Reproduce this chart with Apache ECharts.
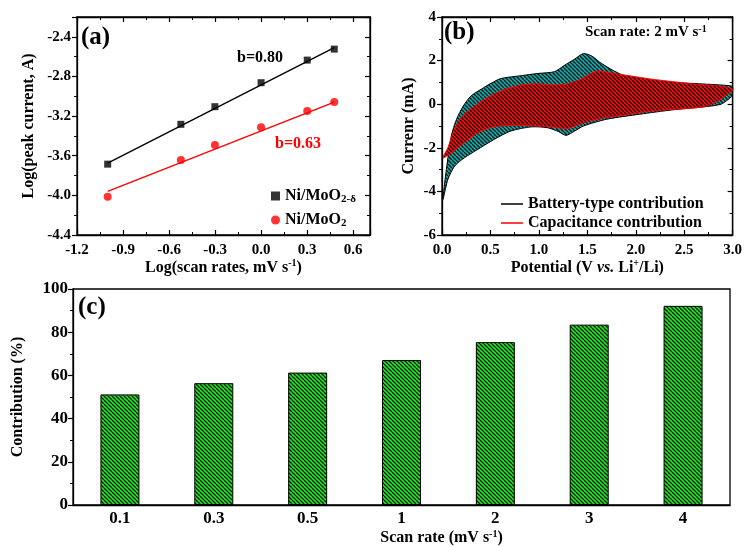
<!DOCTYPE html>
<html><head><meta charset="utf-8">
<script src="https://cdn.jsdelivr.net/npm/echarts@6/dist/echarts.min.js"></script>
<style>html,body{margin:0;padding:0;background:#fff}#c{width:745px;height:547px}</style>
</head><body><div id="c"></div>
<script>
// ---------- Panel (a) data ----------
const logRate = [-1, -0.523, -0.301, 0, 0.301, 0.477];
const peakDelta = [-3.685, -3.283, -3.105, -2.863, -2.635, -2.524];
const peakMoO2 = [-4.014, -3.642, -3.491, -3.313, -3.148, -3.058];
const fitX = [-1, 0.477];
const fitDelta = [-3.675, -2.51];
const fitMoO2 = [-3.96, -3.06];

// ---------- Panel (b) data (CV loops) ----------
const batUpV = [0.01, 0.045, 0.096, 0.15, 0.22, 0.30, 0.405, 0.51, 0.61, 0.82, 0.99, 1.16, 1.26, 1.37, 1.46, 1.55, 1.63, 1.77, 1.97, 2.38, 2.73, 2.97, 3.0];
const batUpI = [-4.37, -3.0, -1.46, -0.69, -0.08, 0.38, 0.69, 0.97, 1.18, 1.31, 1.41, 1.49, 1.77, 2.07, 2.32, 2.2, 1.92, 1.54, 1.15, 1.0, 0.92, 0.85, 0.8];
const batLoV = [2.99, 2.95, 2.88, 2.73, 2.38, 2.04, 1.70, 1.46, 1.37, 1.28, 1.20, 1.09, 0.92, 0.71, 0.54, 0.37, 0.23, 0.13, 0.06];
const batLoI = [0.38, 0.2, 0.0, -0.11, -0.26, -0.46, -0.69, -1.0, -1.23, -1.43, -1.25, -1.08, -1.04, -1.23, -1.61, -2.07, -2.46, -2.84, -3.46];
const capUpV = [0.01, 0.06, 0.12, 0.18, 0.30, 0.47, 0.65, 0.85, 0.99, 1.16, 1.28, 1.40, 1.52, 1.60, 1.82, 2.16, 2.61, 3.0];
const capUpI = [-2.46, -2.0, -1.25, -0.72, -0.2, 0.3, 0.68, 0.9, 0.93, 0.88, 0.92, 1.08, 1.35, 1.52, 1.38, 1.15, 0.92, 0.7];
const capLoV = [2.85, 2.71, 2.51, 2.16, 1.82, 1.70, 1.46, 1.29, 1.16, 1.0, 0.75, 0.54, 0.37, 0.23, 0.10];
const capLoI = [0.15, -0.11, -0.2, -0.31, -0.54, -0.6, -0.85, -1.12, -1.05, -1.0, -0.97, -1.03, -1.31, -1.77, -2.23];

// ---------- Panel (c) data ----------
const scanRates = ['0.1', '0.3', '0.5', '1', '2', '3', '4'];
const contribution = [51.2, 56.4, 61.3, 67.1, 75.4, 83.5, 92.2];

const FF = '"Liberation Serif", "Times New Roman", serif';

function hatch(bg, fg, size, lw) {
  const c = document.createElement('canvas');
  c.width = c.height = size;
  const g = c.getContext('2d');
  g.fillStyle = bg; g.fillRect(0, 0, size, size);
  g.strokeStyle = fg; g.lineWidth = lw;
  g.beginPath();
  for (let k = -1; k <= 1; k++) { g.moveTo(0, k * size); g.lineTo(size, size + k * size); }
  g.stroke();
  return { image: c, repeat: 'repeat' };
}
const tealPat = hatch('#1fa8a8', '#062020', 4, 1.4);
const redPat = hatch('#ff1010', '#1a0000', 4, 1.4);
const greenPat = hatch('#22e622', '#041a04', 4, 1.25);

const lineS = { lineStyle: { color: '#000', width: 1.3 } };
const lbl = { color: '#000', fontFamily: FF, fontWeight: 'bold', fontSize: 15 };
const lblC = { color: '#000', fontFamily: FF, fontWeight: 'bold', fontSize: 17 };
const rich = {
  a: { fontFamily: FF, fontWeight: 'bold', fontSize: 16, color: '#000', lineHeight: 18 },
  i: { fontFamily: FF, fontWeight: 'bold', fontStyle: 'italic', fontSize: 16, color: '#000', lineHeight: 18 },
  sup: { fontFamily: FF, fontWeight: 'bold', fontSize: 10, color: '#000', verticalAlign: 'top', lineHeight: 10 }
};

function valAxis(o) {
  return Object.assign({
    type: 'value', axisLine: Object.assign({ show: true, onZero: false }, lineS),
    axisTick: { show: true, inside: false, length: 5, lineStyle: { color: '#000', width: 1.2 } },
    minorTick: { show: true, splitNumber: 2, length: 3, lineStyle: { color: '#000', width: 1 } },
    splitLine: { show: false }, minorSplitLine: { show: false },
    axisLabel: Object.assign({ showMaxLabel: false, margin: 6 }, lbl),
    nameLocation: 'middle', nameTextStyle: { rich: rich }
  }, o);
}
function mirror(o) {
  return valAxis(Object.assign({
    axisTick: { show: true, inside: true, length: 5, lineStyle: { color: '#000', width: 1.2 } },
    axisLabel: { show: false }
  }, o));
}

function loopSeries(name, upV, upI, loV, loI, pattern, stroke) {
  return {
    type: 'custom', name: name, xAxisIndex: 2, yAxisIndex: 2, silent: true,
    itemStyle: { color: stroke }, data: [[0, 0]],
    renderItem: function (params, api) {
      const pts = [];
      for (let i = 0; i < upV.length; i++) pts.push(api.coord([upV[i], upI[i]]));
      for (let i = 0; i < loV.length; i++) pts.push(api.coord([loV[i], loI[i]]));
      return { type: 'polygon', shape: { points: pts, smooth: 0.25 }, style: { fill: pattern, stroke: stroke, lineWidth: 1 } };
    }
  };
}

const chart = echarts.init(document.getElementById('c'), null, { renderer: 'canvas' });
chart.setOption({
  animation: false,
  backgroundColor: '#fff',
  grid: [
    { left: 77, top: 17, width: 293, height: 218, show: true, borderColor: '#000', borderWidth: 1.3 },
    { left: 442, top: 17, width: 291, height: 218, show: true, borderColor: '#000', borderWidth: 1.3 },
    { left: 73, top: 289, width: 657, height: 217, show: true, borderColor: '#000', borderWidth: 1.3 }
  ],
  xAxis: [
    valAxis({ gridIndex: 0, min: -1.2, max: 0.71, interval: 0.3,
      axisTick: { show: true, inside: true, length: 5, lineStyle: { color: '#000', width: 1.2 } },
      axisLabel: Object.assign({ showMaxLabel: false, margin: 8, formatter: v => v.toFixed(1) }, lbl),
      name: '{a|Log(scan rates, mV s}{sup|-1}{a|)}', nameGap: 23 }),
    mirror({ gridIndex: 0, position: 'top', min: -1.2, max: 0.71, interval: 0.3 }),
    valAxis({ gridIndex: 1, min: 0, max: 3, interval: 0.5,
      axisTick: { show: true, inside: true, length: 5, lineStyle: { color: '#000', width: 1.2 } },
      axisLabel: Object.assign({ showMaxLabel: true, margin: 8, formatter: v => v.toFixed(1) }, lbl),
      name: '{a|Potential (V }{i|vs.}{a| Li}{sup|+}{a|/Li)}', nameGap: 23 }),
    mirror({ gridIndex: 1, position: 'top', min: 0, max: 3, interval: 0.5 }),
    { type: 'category', gridIndex: 2, data: scanRates,
      axisLine: Object.assign({ show: true }, lineS), axisTick: { show: false },
      axisLabel: Object.assign({ margin: 5 }, lblC),
      name: '{a|Scan rate (mV s}{sup|-1}{a|)}', nameLocation: 'middle', nameGap: 24,
      nameTextStyle: { rich: rich, padding: [0, 0, 0, 80] } }
  ],
  yAxis: [
    valAxis({ gridIndex: 0, min: -4.4, max: -2.2, interval: 0.4,
      axisLabel: Object.assign({ showMaxLabel: false, margin: 6, formatter: v => v.toFixed(1) }, lbl),
      name: '{a|Log(peak current, A)}', nameGap: 39 }),
    mirror({ gridIndex: 0, position: 'right', min: -4.4, max: -2.2, interval: 0.4 }),
    valAxis({ gridIndex: 1, min: -6, max: 4, interval: 2,
      axisLabel: Object.assign({ showMaxLabel: true, margin: 6 }, lbl),
      name: '{a|Currenr (mA)}', nameGap: 24 }),
    mirror({ gridIndex: 1, position: 'right', min: -6, max: 4, interval: 2 }),
    valAxis({ gridIndex: 2, min: 0, max: 100, interval: 20,
      axisLabel: Object.assign({ showMaxLabel: true, margin: 5 }, lblC),
      name: '{a|Contribution (%)}', nameGap: 46 })
  ],
  legend: [
    { left: 266, top: 183, orient: 'vertical', itemGap: 7, itemWidth: 9, itemHeight: 9,
      data: ['Ni/MoO2-δ', 'Ni/MoO2'],
      formatter: n => n === 'Ni/MoO2-δ' ? '{t|Ni/MoO}{s|2-δ}' : '{t|Ni/MoO}{s|2}',
      textStyle: { color: '#000', rich: {
        t: { fontFamily: FF, fontWeight: 'bold', fontSize: 16, color: '#000', lineHeight: 18 },
        s: { fontFamily: FF, fontWeight: 'bold', fontSize: 11, color: '#000', verticalAlign: 'bottom', lineHeight: 12, padding: [6, 0, 0, 0] } } } },
    { left: 496, top: 191, orient: 'vertical', itemGap: 3, itemWidth: 22, itemHeight: 1.5,
      data: [{ name: 'Battery-type contribution', icon: 'rect', itemStyle: { color: '#000', borderWidth: 0 } },
             { name: 'Capacitance contribution', icon: 'rect', itemStyle: { color: '#ff0000', borderWidth: 0 } }],
      textStyle: { color: '#000', fontFamily: FF, fontWeight: 'bold', fontSize: 16, lineHeight: 16 } }
  ],
  series: [
    { type: 'line', name: 'fitDelta', xAxisIndex: 0, yAxisIndex: 0, data: fitX.map((x, i) => [x, fitDelta[i]]),
      showSymbol: false, lineStyle: { color: '#000', width: 1.4 }, silent: true },
    { type: 'line', name: 'fitMoO2', xAxisIndex: 0, yAxisIndex: 0, data: fitX.map((x, i) => [x, fitMoO2[i]]),
      showSymbol: false, lineStyle: { color: '#ff0000', width: 1.4 }, silent: true },
    { type: 'scatter', name: 'Ni/MoO2-δ', xAxisIndex: 0, yAxisIndex: 0, symbol: 'rect', symbolSize: 7,
      itemStyle: { color: '#000' }, data: logRate.map((x, i) => [x, peakDelta[i]]) },
    { type: 'scatter', name: 'Ni/MoO2', xAxisIndex: 0, yAxisIndex: 0, symbol: 'circle', symbolSize: 8,
      itemStyle: { color: '#ff0000' }, data: logRate.map((x, i) => [x, peakMoO2[i]]) },
    loopSeries('Battery-type contribution', batUpV, batUpI, batLoV, batLoI, tealPat, '#000'),
    loopSeries('Capacitance contribution', capUpV, capUpI, capLoV, capLoI, redPat, '#ff0000'),
    { type: 'bar', name: 'contribution', xAxisIndex: 4, yAxisIndex: 4, data: contribution, barWidth: 39,
      itemStyle: { color: greenPat, borderColor: '#000', borderWidth: 1 }, silent: true }
  ],
  graphic: [
    { type: 'text', left: 81, top: 25, style: { text: '(a)', font: 'bold 25px ' + FF, fill: '#000' } },
    { type: 'text', left: 444, top: 20, style: { text: '(b)', font: 'bold 25px ' + FF, fill: '#000' } },
    { type: 'text', left: 78, top: 295, style: { text: '(c)', font: 'bold 25px ' + FF, fill: '#000' } },
    { type: 'text', left: 237, top: 50, style: { text: 'b=0.80', font: 'bold 16px ' + FF, fill: '#000' } },
    { type: 'text', left: 275, top: 136, style: { text: 'b=0.63', font: 'bold 16px ' + FF, fill: '#ff0000' } },
    { type: 'text', left: 585, top: 24, style: { text: '{a|Scan rate: 2 mV s}{sup|-1}', rich: {
        a: { fontFamily: FF, fontWeight: 'bold', fontSize: 15, fill: '#000', lineHeight: 17 },
        sup: { fontFamily: FF, fontWeight: 'bold', fontSize: 10, fill: '#000', verticalAlign: 'top', lineHeight: 10 } } } },
    { type: 'text', left: 573, top: 94, style: { text: '75.3 %', font: 'bold 17px ' + FF, fill: '#fff' } }
  ]
});
</script></body></html>
